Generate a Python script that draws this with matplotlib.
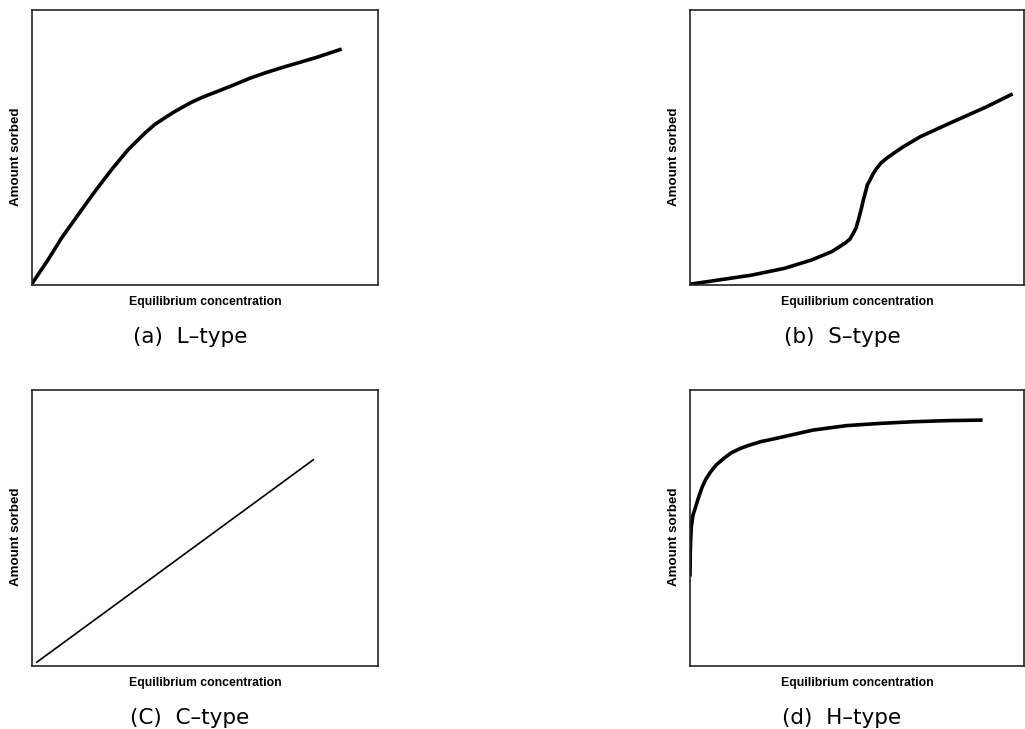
import numpy as np
import matplotlib
matplotlib.use("Agg")
import matplotlib.pyplot as plt

# values (axes run 0..100 in both directions)
l_x = [0, 4.6, 8.5, 13.3, 18.1, 22.9, 27.7, 32.6, 35.5, 38.9, 41.3, 43.7, 46.2, 48.6,
       50.9, 53.4, 58.2, 63.0, 67.8, 72.6, 77.5, 82.3, 89.5]
l_y = [0.5, 9.1, 17.0, 25.5, 33.9, 41.8, 49.1, 55.2, 58.4, 61.2, 63.1, 64.8, 66.5, 67.9,
       69.1, 70.3, 72.7, 75.2, 77.3, 79.2, 81.0, 82.8, 85.8]

s_x = [0, 8.5, 18.5, 28.4, 36.4, 42.4, 46.4, 47.9, 48.9, 49.7, 50.4, 51.2, 51.9, 52.7,
       53.1, 53.9, 54.8, 55.9, 57.2, 58.9, 61.1, 63.9, 68.9, 78.8, 88.8, 96.6]
s_y = [0.3, 1.8, 3.6, 6.1, 9.1, 12.1, 15.2, 16.7, 18.8, 20.7, 23.6, 27.3, 30.9, 34.5,
       36.4, 38.2, 40.4, 42.4, 44.4, 46.1, 48.0, 50.3, 53.9, 59.4, 64.8, 69.5]

c_x = [1.2, 81.5]
c_y = [1.2, 74.9]

h_x = [0, 0.1, 0.2, 0.4, 0.9, 1.7, 2.7, 3.7, 4.8, 6.2, 7.8, 10.2, 12.3, 15.2, 18.0,
       21.2, 24.0, 28.1, 36.9, 46.9, 56.9, 66.9, 76.9, 87.6]
h_y = [32.4, 42.0, 45.7, 50.5, 54.7, 57.7, 61.6, 65.0, 67.8, 70.4, 72.8, 75.3, 77.2, 78.9, 80.1,
       81.3, 82.0, 83.1, 85.5, 87.1, 87.9, 88.5, 88.9, 89.1]

captions = ["(a)  L–type", "(b)  S–type", "(C)  C–type", "(d)  H–type"]

fig = plt.figure(figsize=(10.25, 7.29), dpi=100)
W, H = 1025.0, 729.0

# axes boxes in pixels: left, right, top, bottom
boxes = [(32, 378, 10, 285), (690, 1024, 10, 285),
         (32, 378, 390, 666), (690, 1024, 390, 666)]
series = [(l_x, l_y, 2.6), (s_x, s_y, 2.6), (c_x, c_y, 1.2), (h_x, h_y, 2.6)]

for (l, r, t, b), (xs, ys, lw), cap in zip(boxes, series, captions):
    ax = fig.add_axes([l / W, 1 - b / H, (r - l) / W, (b - t) / H])
    ax.plot(xs, ys, color='black', linewidth=lw,
            solid_capstyle='butt', solid_joinstyle='round')
    ax.set_xlim(0, 100)
    ax.set_ylim(0, 100)
    ax.set_xticks([])
    ax.set_yticks([])
    for sp in ax.spines.values():
        sp.set_linewidth(1.2)
        sp.set_color('#222222')

    cx = (l + r) / 2
    fig.text(cx / W, 1 - (b + 17) / H, "Equilibrium concentration",
             family='Liberation Sans', weight='bold', fontsize=8.8,
             ha='center', va='center')
    fig.text((l - 16) / W, 1 - ((t + b) / 2 + 9) / H, "Amount sorbed",
             family='Liberation Sans', weight='bold', fontsize=9.6,
             rotation=90, ha='center', va='center')
    fig.text((cx - 15) / W, 1 - (b + 52) / H, cap,
             family=['DejaVu Sans'], fontsize=15.5,
             ha='center', va='center')

fig.savefig("out.png", dpi=100)
